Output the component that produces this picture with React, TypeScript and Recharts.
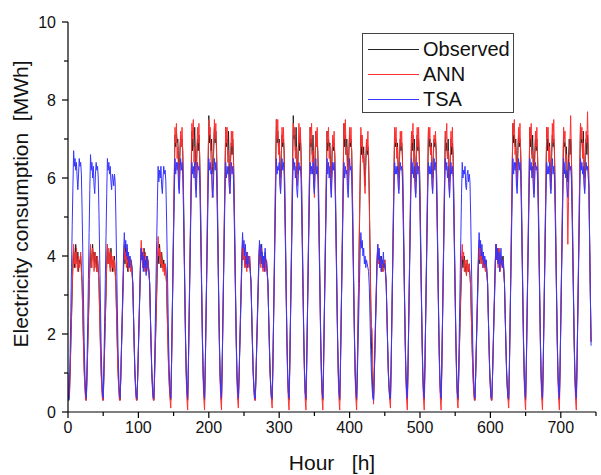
import React from 'react';
import { LineChart, Line, XAxis, YAxis, Legend } from 'recharts';

const FONT = '"Liberation Sans", Arial, Helvetica, sans-serif';

// Hourly values, one row per day (24 h), hours 0..743
const observed: number[] = [
  0.6,0.3,0.4,1.0,1.7,2.4,3.1,3.8, 4.2,3.7,3.9,4.3,4.0,3.8,4.1,3.6,3.9,3.8,4.0,3.7, 3.3,2.5,1.8,1.1,
  0.7,0.4,0.3,0.9,1.6,2.3,3.0,3.7, 4.2,3.7,4.0,4.3,3.9,4.1,3.7,3.9,4.0,3.6,3.9,3.7, 3.3,2.5,1.8,1.1,
  0.7,0.4,0.3,0.9,1.6,2.3,3.0,3.8, 4.3,3.8,4.1,4.0,3.7,4.2,3.9,3.6,3.9,3.7,4.0,3.6, 3.3,2.5,1.8,1.1,
  0.7,0.4,0.3,0.9,1.6,2.3,3.0,3.7, 4.1,3.8,4.3,3.9,4.0,3.6,3.9,4.0,3.7,3.8,3.9,3.6, 3.3,2.5,1.8,1.1,
  0.7,0.4,0.3,0.9,1.6,2.3,3.0,3.8, 4.2,3.9,4.1,3.7,4.2,3.8,3.9,3.6,4.0,3.7,3.8,3.6, 3.3,2.5,1.8,1.1,
  0.7,0.4,0.3,0.9,1.6,2.3,3.0,3.8, 4.1,3.8,4.3,4.0,3.7,4.1,3.9,3.7,3.9,3.6,3.8,3.7, 3.3,2.5,1.8,1.1,
  0.7,0.4,0.3,1.2,2.4,3.6,4.8,6.0, 7.1,6.8,7.2,6.9,7.0,6.4,6.1,6.7,7.1,6.8,7.0,6.7, 5.7,4.4,3.1,1.9,
  1.0,0.5,0.3,1.2,2.4,3.6,4.8,6.0, 7.2,6.7,7.0,6.8,7.3,6.5,6.0,6.6,7.0,6.7,7.1,6.6, 5.7,4.4,3.1,1.9,
  1.0,0.5,0.3,1.2,2.4,3.6,4.9,6.2, 7.6,6.9,7.1,6.7,7.0,6.3,6.1,6.8,7.3,6.9,7.2,6.8, 5.8,4.5,3.1,1.9,
  1.0,0.5,0.3,1.2,2.4,3.6,4.8,6.0, 7.3,6.8,7.0,6.6,7.2,6.4,5.9,6.5,6.9,6.6,7.0,6.6, 5.6,4.4,3.1,1.9,
  1.0,0.5,0.3,0.9,1.6,2.3,3.1,3.8, 4.3,3.9,4.2,3.8,4.0,3.7,4.1,3.9,3.8,3.9,4.0,3.6, 3.3,2.5,1.8,1.1,
  0.7,0.4,0.3,0.9,1.6,2.3,3.0,3.7, 4.2,3.8,4.1,4.3,3.9,3.7,4.0,3.8,4.1,3.7,3.9,3.6, 3.3,2.5,1.8,1.1,
  0.7,0.4,0.3,1.2,2.4,3.6,4.9,6.2, 7.5,6.9,7.2,6.8,7.0,6.4,6.0,6.6,7.1,6.8,7.0,6.7, 5.7,4.4,3.1,1.9,
  1.0,0.5,0.3,1.2,2.4,3.6,4.9,6.2, 7.6,7.0,7.1,6.7,7.3,6.5,6.1,6.7,7.0,6.7,7.1,6.7, 5.7,4.4,3.1,1.9,
  1.0,0.5,0.3,1.2,2.4,3.6,4.8,6.0, 7.3,6.8,7.0,6.6,7.1,6.3,5.9,6.6,7.2,6.8,7.0,6.6, 5.7,4.4,3.1,1.9,
  1.0,0.5,0.3,1.2,2.4,3.6,4.8,6.0, 7.2,6.7,7.0,6.8,6.9,6.3,6.0,6.6,7.0,6.7,6.9,6.6, 5.6,4.4,3.1,1.9,
  1.0,0.5,0.3,1.2,2.4,3.6,4.8,6.1, 7.4,6.8,7.1,6.6,7.0,6.4,6.1,6.7,7.1,6.8,7.0,6.7, 5.7,4.4,3.1,1.9,
  1.0,0.5,0.3,1.2,2.4,3.5,4.7,5.9, 7.1,6.6,6.9,6.5,6.8,6.2,5.8,6.4,6.9,6.6,6.8,6.5, 5.5,4.2,3.0,1.8,
  1.0,0.5,0.3,0.9,1.6,2.3,3.0,3.8, 4.2,3.8,4.1,3.7,3.9,4.0,3.6,3.9,3.7,3.8,3.9,3.6, 3.3,2.5,1.8,1.1,
  0.7,0.4,0.3,1.2,2.4,3.6,4.8,6.0, 7.2,6.8,7.0,6.7,6.9,6.3,6.0,6.6,7.0,6.7,6.9,6.6, 5.6,4.4,3.1,1.9,
  1.0,0.5,0.3,1.2,2.4,3.6,4.8,6.0, 7.2,6.7,7.1,6.6,7.0,6.4,5.9,6.6,7.1,6.7,7.0,6.6, 5.7,4.4,3.1,1.9,
  1.0,0.5,0.3,1.2,2.4,3.6,4.8,6.0, 7.2,6.8,7.0,6.6,6.9,6.3,6.0,6.7,7.0,6.8,7.0,6.7, 5.7,4.4,3.1,1.9,
  1.0,0.5,0.3,1.2,2.4,3.6,4.8,6.0, 7.2,6.7,6.9,6.5,7.0,6.3,5.9,6.5,7.0,6.6,6.9,6.6, 5.6,4.3,3.1,1.9,
  1.0,0.5,0.3,0.9,1.6,2.3,3.0,3.6, 4.0,3.7,3.9,4.0,3.6,3.8,3.5,3.9,3.7,3.6,3.8,3.5, 3.2,2.4,1.7,1.1,
  0.7,0.4,0.3,0.9,1.6,2.3,3.0,3.8, 4.2,3.8,4.3,3.9,4.0,3.7,4.1,3.8,3.9,3.7,3.9,3.6, 3.3,2.5,1.8,1.1,
  0.7,0.4,0.3,0.9,1.6,2.3,3.0,3.8, 4.3,3.9,4.1,3.8,4.2,3.9,3.7,4.0,3.8,3.9,4.0,3.7, 3.3,2.5,1.8,1.1,
  0.7,0.4,0.3,1.2,2.4,3.6,4.9,6.2, 7.4,6.9,7.1,6.8,7.0,6.4,6.1,6.7,7.1,6.8,7.0,6.7, 5.7,4.4,3.1,1.9,
  1.0,0.5,0.3,1.2,2.4,3.6,4.8,6.0, 7.3,6.8,7.0,6.6,7.1,6.4,6.0,6.6,7.0,6.7,7.0,6.6, 5.7,4.4,3.1,1.9,
  1.0,0.5,0.3,1.2,2.4,3.6,4.8,6.0, 7.3,6.7,7.0,6.7,6.9,6.3,5.9,6.6,7.1,6.8,7.0,6.7, 5.7,4.4,3.1,1.9,
  1.0,0.5,0.3,1.2,2.4,3.6,4.8,6.0, 7.2,6.8,6.9,6.5,6.8,6.2,5.9,6.5,7.0,6.6,7.0,6.6, 5.6,4.4,3.1,1.9,
  1.0,0.5,0.3,1.2,2.4,3.6,4.9,6.2, 7.4,6.9,7.0,6.6,7.2,6.4,6.0,6.7,7.0,6.6,7.1,6.7, 5.7,4.3,3.0,1.8,
];

const ann: number[] = [
  1.0,0.4,0.4,1.0,1.8,2.5,3.2,3.9, 4.3,3.8,4.1,3.7,4.2,3.9,3.6,4.0,3.7,3.8,4.1,3.6, 3.3,2.5,1.7,1.0,
  0.6,0.3,0.3,0.9,1.7,2.4,3.1,3.9, 4.3,3.9,3.7,4.2,4.0,3.6,3.9,4.1,3.7,3.6,4.0,3.6, 3.3,2.5,1.7,1.0,
  0.6,0.3,0.3,0.9,1.7,2.4,3.1,3.9, 4.3,3.8,4.2,3.9,3.6,4.1,3.8,3.7,4.0,3.6,3.9,3.6, 3.3,2.5,1.7,1.0,
  0.6,0.3,0.3,0.9,1.7,2.4,3.1,3.8, 4.3,3.9,4.1,3.7,4.2,3.8,3.6,4.0,3.8,3.6,3.9,3.5, 3.3,2.5,1.7,1.0,
  0.6,0.3,0.3,0.9,1.7,2.4,3.1,3.9, 4.4,4.0,3.7,4.2,3.9,3.6,4.1,3.8,3.6,3.7,3.9,3.5, 3.3,2.5,1.7,1.0,
  0.6,0.3,0.3,0.9,1.7,2.4,3.2,4.0, 4.5,4.0,4.2,3.8,4.1,3.7,3.9,3.6,3.8,3.5,3.8,3.5, 3.3,2.5,1.7,1.0,
  0.6,0.3,0.1,1.0,2.3,3.6,4.9,6.2, 7.3,6.9,7.4,6.5,6.8,6.1,5.7,6.5,7.2,6.8,7.3,6.6, 5.5,4.2,2.9,1.7,
  0.8,0.3,0.05,1.0,2.3,3.6,4.9,6.2, 7.4,7.0,7.5,6.4,6.8,6.0,5.7,6.6,7.3,6.9,7.4,6.5, 5.5,4.2,2.9,1.7,
  0.8,0.3,0.05,1.0,2.3,3.6,5.0,6.4, 7.5,7.1,7.3,6.5,6.2,5.5,5.9,6.8,7.5,7.0,7.4,6.6, 5.5,4.2,2.9,1.7,
  0.8,0.3,0.05,1.0,2.3,3.6,4.9,6.2, 7.3,6.9,7.3,6.4,6.7,5.9,5.6,6.5,7.2,6.8,7.2,6.5, 5.4,4.1,2.9,1.7,
  0.8,0.3,0.1,0.9,1.7,2.5,3.2,3.9, 4.4,3.9,4.2,3.7,4.0,3.8,3.6,4.1,3.8,3.7,4.0,3.6, 3.3,2.5,1.7,1.0,
  0.6,0.3,0.3,0.9,1.7,2.4,3.1,3.9, 4.3,3.9,3.7,4.2,3.9,3.6,4.0,3.7,3.9,3.6,3.9,3.5, 3.3,2.5,1.7,1.0,
  0.6,0.3,0.1,1.0,2.3,3.6,5.0,6.4, 7.5,7.0,7.5,6.6,6.9,6.0,5.7,6.6,7.3,6.9,7.3,6.6, 5.5,4.2,2.9,1.7,
  0.8,0.3,0.05,1.0,2.3,3.6,5.0,6.4, 7.4,7.1,7.3,6.5,6.8,6.1,5.8,6.7,7.4,6.9,7.3,6.6, 5.5,4.2,2.9,1.7,
  0.8,0.3,0.05,1.0,2.3,3.6,4.9,6.2, 7.3,6.9,7.4,6.4,6.7,5.9,5.5,6.5,7.2,6.8,7.3,6.5, 5.4,4.1,2.9,1.7,
  0.8,0.3,0.05,1.0,2.3,3.6,4.9,6.2, 7.2,6.9,7.3,6.5,6.8,6.1,5.6,6.4,7.1,6.8,7.2,6.5, 5.4,4.1,2.9,1.7,
  0.8,0.3,0.05,1.0,2.3,3.6,4.9,6.3, 7.4,7.0,7.5,6.6,6.8,6.0,5.8,6.6,7.3,6.9,7.3,6.6, 5.5,4.2,2.9,1.7,
  0.8,0.3,0.05,1.0,2.3,3.6,4.9,6.2, 7.3,6.8,7.1,6.4,6.6,5.9,5.6,6.4,7.0,6.7,7.2,6.4, 5.3,4.0,2.6,2.2,
  2.1,1.2,0.2,0.9,1.7,2.5,3.2,3.9, 4.3,3.8,4.1,3.7,4.0,3.6,3.9,3.8,3.6,3.7,3.9,3.5, 3.3,2.5,1.7,1.0,
  0.6,0.3,0.1,1.0,2.3,3.6,4.9,6.2, 7.3,6.9,7.3,6.5,6.8,6.0,5.7,6.5,7.2,6.8,7.2,6.5, 5.4,4.1,2.9,1.7,
  0.8,0.3,0.05,1.0,2.3,3.6,4.9,6.2, 7.2,6.9,7.4,6.4,6.7,5.9,5.6,6.6,7.3,6.8,7.3,6.5, 5.4,4.1,2.9,1.7,
  0.8,0.3,0.05,1.0,2.3,3.6,4.9,6.2, 7.3,7.0,7.3,6.6,6.8,6.1,5.7,6.5,7.1,6.9,7.2,6.6, 5.5,4.2,2.9,1.7,
  0.8,0.3,0.05,1.0,2.3,3.6,4.9,6.2, 7.2,7.0,7.4,6.5,6.7,5.9,5.6,6.5,7.2,6.8,7.3,6.5, 5.4,4.1,2.9,1.7,
  0.8,0.3,0.1,0.9,1.7,2.5,3.2,3.9, 4.3,3.9,4.1,3.6,3.9,3.7,3.5,3.9,3.6,3.7,3.8,3.5, 3.2,2.4,1.7,1.0,
  0.6,0.3,0.3,0.9,1.7,2.5,3.2,3.9, 4.4,3.9,4.2,3.8,4.1,3.7,3.9,4.0,3.7,3.6,3.9,3.5, 3.3,2.5,1.7,1.0,
  0.6,0.3,0.3,0.9,1.7,2.4,3.1,3.9, 4.3,3.9,4.1,3.7,4.2,3.8,3.6,4.0,3.8,3.7,3.9,3.6, 3.3,2.5,1.7,1.0,
  0.6,0.3,0.1,1.0,2.3,3.6,5.0,6.4, 7.4,7.1,7.5,6.6,6.8,6.1,5.8,6.6,7.3,6.9,7.4,6.6, 5.5,4.2,2.9,1.7,
  0.8,0.3,0.05,1.0,2.3,3.6,4.9,6.2, 7.3,7.0,7.4,6.5,6.7,5.9,5.6,6.5,7.2,6.8,7.3,6.5, 5.4,4.1,2.9,1.7,
  0.8,0.3,0.05,1.0,2.3,3.6,4.9,6.2, 7.3,7.0,7.3,6.4,6.8,6.0,5.7,6.6,7.4,6.9,7.5,6.6, 5.5,4.2,2.9,1.7,
  0.8,0.3,0.05,1.0,2.3,3.6,4.9,6.2, 7.3,7.0,7.2,6.4,6.6,5.6,4.3,5.4,6.6,6.9,7.6,6.7, 5.5,4.2,2.9,1.7,
  0.8,0.3,0.05,1.0,2.3,3.6,5.0,6.4, 7.4,7.0,7.3,6.5,6.9,6.0,5.7,6.6,7.2,6.9,7.7,6.8, 5.6,4.3,3.0,1.8,
];

const tsa: number[] = [
  0.5,0.3,0.6,1.5,2.6,3.7,4.8,5.8, 6.7,6.3,6.5,6.2,6.4,6.0,5.7,6.1,6.5,6.3,6.4,6.1, 5.2,4.1,2.9,1.8,
  1.0,0.5,0.35,1.2,2.3,3.4,4.6,5.7, 6.6,6.2,6.4,6.0,6.3,5.8,5.6,6.1,6.4,6.2,6.3,6.0, 5.1,4.0,2.9,1.8,
  1.0,0.5,0.35,1.2,2.3,3.4,4.5,5.6, 6.5,6.2,6.4,6.1,6.3,5.9,5.7,6.1,6.0,5.8,6.1,5.9, 5.0,3.9,2.8,1.7,
  1.0,0.5,0.35,0.9,1.7,2.5,3.3,4.1, 4.6,4.2,4.4,4.0,4.3,3.9,4.1,3.7,4.0,3.9,3.8,3.7, 3.3,2.5,1.7,1.0,
  0.6,0.35,0.35,0.9,1.6,2.4,3.1,3.8, 4.2,3.9,4.1,3.6,4.0,3.7,3.9,3.5,3.8,4.0,3.7,3.6, 3.3,2.5,1.7,1.0,
  0.6,0.35,0.35,1.2,2.3,3.4,4.4,5.4, 6.3,5.9,6.2,6.0,6.3,5.8,5.6,6.0,6.3,6.1,6.2,5.9, 5.0,3.9,2.8,1.7,
  1.0,0.5,0.35,1.2,2.3,3.4,4.5,5.6, 6.5,6.1,6.4,6.2,6.4,5.8,5.6,6.1,6.5,6.2,6.4,6.1, 5.2,4.1,2.9,1.8,
  1.0,0.5,0.35,1.2,2.3,3.4,4.5,5.6, 6.4,6.1,6.3,6.0,6.4,5.8,5.5,6.0,6.4,6.2,6.3,6.0, 5.1,4.0,2.9,1.8,
  1.0,0.5,0.35,1.2,2.3,3.4,4.5,5.6, 6.5,6.2,6.4,6.1,6.2,5.7,5.5,6.1,6.5,6.2,6.4,6.1, 5.2,4.1,2.9,1.8,
  1.0,0.5,0.35,1.2,2.3,3.4,4.5,5.6, 6.4,6.0,6.3,6.1,6.3,5.8,5.6,6.0,6.4,6.1,6.3,6.0, 5.1,4.0,2.9,1.8,
  1.0,0.5,0.35,0.9,1.7,2.5,3.3,4.1, 4.6,4.2,4.4,4.0,4.3,3.8,4.1,3.7,4.0,3.9,3.8,3.6, 3.3,2.5,1.7,1.0,
  0.6,0.35,0.35,0.9,1.7,2.5,3.2,3.9, 4.4,4.0,4.3,3.8,4.1,3.7,4.0,3.6,4.2,3.9,3.8,3.6, 3.3,2.5,1.7,1.0,
  0.6,0.35,0.35,1.2,2.3,3.4,4.5,5.6, 6.5,6.1,6.3,6.2,6.4,5.8,5.6,6.1,6.5,6.2,6.4,6.1, 5.2,4.1,2.9,1.8,
  1.0,0.5,0.35,1.2,2.3,3.4,4.5,5.6, 6.5,6.2,6.4,6.0,6.3,5.7,5.5,6.0,6.4,6.2,6.3,6.0, 5.1,4.0,2.9,1.8,
  1.0,0.5,0.35,1.2,2.3,3.4,4.5,5.6, 6.4,6.1,6.3,6.1,6.4,5.8,5.6,6.1,6.5,6.1,6.3,6.0, 5.1,4.0,2.9,1.8,
  1.0,0.5,0.35,1.2,2.3,3.4,4.5,5.6, 6.5,6.1,6.4,6.0,6.3,5.8,5.5,6.0,6.4,6.2,6.4,6.1, 5.2,4.1,2.9,1.8,
  1.0,0.5,0.35,1.2,2.3,3.4,4.5,5.6, 6.4,6.0,6.3,6.1,6.2,5.7,5.5,6.0,6.5,6.2,6.3,6.0, 5.1,4.0,2.9,1.8,
  1.0,0.5,0.35,0.9,1.7,2.5,3.3,4.1, 4.6,4.2,4.4,4.0,4.2,3.8,4.0,3.7,3.9,3.8,3.7,3.6, 3.2,2.4,1.6,1.0,
  0.6,0.35,0.3,0.9,1.7,2.5,3.2,3.9, 4.3,3.9,4.2,3.7,4.0,3.6,3.9,3.8,4.1,3.7,3.8,3.6, 3.3,2.5,1.7,1.0,
  0.6,0.35,0.35,1.2,2.3,3.4,4.5,5.6, 6.4,6.1,6.3,6.1,6.3,5.8,5.6,6.1,6.4,6.2,6.3,6.0, 5.1,4.0,2.9,1.8,
  1.0,0.5,0.35,1.2,2.3,3.4,4.5,5.6, 6.5,6.1,6.4,6.0,6.3,5.7,5.5,6.0,6.4,6.1,6.3,6.0, 5.1,4.0,2.9,1.8,
  1.0,0.5,0.35,1.2,2.3,3.4,4.5,5.6, 6.4,6.1,6.3,6.1,6.4,5.8,5.6,6.1,6.5,6.2,6.4,6.1, 5.2,4.1,2.9,1.8,
  1.0,0.5,0.35,1.2,2.3,3.4,4.5,5.6, 6.5,6.2,6.4,6.0,6.3,5.8,5.5,6.0,6.4,6.1,6.3,6.0, 5.1,4.0,2.9,1.8,
  1.0,0.5,0.35,1.2,2.3,3.4,4.5,5.6, 6.4,6.0,6.2,6.1,6.3,5.8,5.7,6.1,6.2,5.9,6.1,5.9, 5.0,3.9,2.8,1.7,
  1.0,0.5,0.35,0.9,1.7,2.5,3.3,4.1, 4.6,4.2,4.4,4.0,4.3,3.9,4.1,3.7,4.0,3.8,3.9,3.6, 3.3,2.5,1.7,1.0,
  0.6,0.35,0.35,0.9,1.7,2.5,3.2,3.9, 4.3,3.9,4.2,3.8,4.1,3.6,3.9,4.2,3.8,3.7,3.9,3.6, 3.3,2.5,1.7,1.0,
  0.6,0.35,0.35,1.2,2.3,3.4,4.5,5.6, 6.5,6.1,6.4,6.2,6.4,5.8,5.6,6.1,6.5,6.2,6.4,6.1, 5.2,4.1,2.9,1.8,
  1.0,0.5,0.35,1.2,2.3,3.4,4.5,5.6, 6.5,6.2,6.4,6.0,6.3,5.7,5.5,6.0,6.4,6.2,6.3,6.0, 5.1,4.0,2.9,1.8,
  1.0,0.5,0.35,1.2,2.3,3.4,4.5,5.6, 6.4,6.1,6.3,6.1,6.4,5.8,5.6,6.1,6.5,6.1,6.3,6.0, 5.1,4.0,2.9,1.8,
  1.0,0.5,0.35,1.2,2.3,3.4,4.5,5.6, 6.5,6.1,6.4,6.0,6.2,5.7,5.5,6.0,6.4,6.2,6.3,6.0, 5.1,4.0,2.9,1.8,
  1.0,0.5,0.35,1.2,2.3,3.4,4.5,5.6, 6.5,6.2,6.4,6.1,6.3,5.8,5.6,6.1,6.4,6.2,6.3,6.0, 5.8,4.4,3.0,1.7,
];

const xTicks: number[] = [0, 50, 100, 150, 200, 250, 300, 350, 400, 450, 500, 550, 600, 650, 700, 750];
const yTicks: number[] = [0, 1, 2, 3, 4, 5, 6, 7, 8, 9, 10];

const seriesInfo = [
  { key: 'observed', name: 'Observed', color: '#222222' },
  { key: 'ann', name: 'ANN', color: '#ff3030' },
  { key: 'tsa', name: 'TSA', color: '#3535ff' },
];

const data = observed.map((v, i) => ({ hour: i, observed: v, ann: ann[i], tsa: tsa[i] }));

const XTick = (props: any) => {
  const { x, y, payload } = props;
  const v = payload.value;
  const major = v % 100 === 0;
  return (
    <g>
      <line x1={x} y1={y} x2={x} y2={y + (major ? 6 : 4)} stroke="#000" strokeWidth={1.2} />
      {major && (
        <text x={x} y={y + 10} dy="0.71em" textAnchor="middle" fontSize={16} fontFamily={FONT} fill="#111">
          {v}
        </text>
      )}
    </g>
  );
};

const YTick = (props: any) => {
  const { x, y, payload } = props;
  const v = payload.value;
  const major = v % 2 === 0;
  return (
    <g>
      <line x1={x - (major ? 6 : 4)} y1={y} x2={x} y2={y} stroke="#000" strokeWidth={1.2} />
      {major && (
        <text x={x - 12} y={y} dy="0.355em" textAnchor="end" fontSize={16} fontFamily={FONT} fill="#111">
          {v}
        </text>
      )}
    </g>
  );
};

const LegendBox = () => (
  <div
    style={{
      width: 152,
      height: 80,
      border: '1px solid #444',
      boxSizing: 'border-box',
      background: '#fff',
      paddingTop: 3,
      fontFamily: FONT,
      fontSize: 20,
      color: '#111',
    }}
  >
    {seriesInfo.map((s) => (
      <div key={s.key} style={{ height: 25, display: 'flex', alignItems: 'center' }}>
        <svg width={60} height={25} style={{ display: 'block' }}>
          <line x1={5} y1={12.5} x2={56} y2={12.5} stroke={s.color} strokeWidth={1} />
        </svg>
        <span style={{ lineHeight: '25px' }}>{s.name}</span>
      </div>
    ))}
  </div>
);

export default function App() {
  return (
    <div style={{ position: 'absolute', left: 0, top: 0, width: 601, height: 475, background: '#fff' }}>
      <LineChart width={601} height={475} data={data} margin={{ top: 22, right: 5, bottom: 0, left: 0 }}>
        <XAxis
          dataKey="hour"
          type="number"
          domain={[0, 750]}
          ticks={xTicks}
          interval={0}
          tickSize={0}
          tickMargin={0}
          tick={XTick}
          tickLine={false}
          axisLine={{ stroke: '#000', strokeWidth: 1.2 }}
          height={63}
          allowDataOverflow
          label={(p: any) => {
            const vb = p.viewBox;
            return (
              <text
                x={vb.x + vb.width / 2}
                y={vb.y + vb.height - 5}
                textAnchor="middle"
                fontSize={21}
                fontFamily={FONT}
                fill="#111"
              >
                {'Hour\u00a0\u00a0\u00a0[h]'}
              </text>
            );
          }}
        />
        <YAxis
          type="number"
          domain={[0, 10]}
          ticks={yTicks}
          interval={0}
          tickSize={0}
          tickMargin={0}
          tick={YTick}
          tickLine={false}
          axisLine={{ stroke: '#000', strokeWidth: 1.2 }}
          width={68}
          allowDataOverflow
          label={(p: any) => {
            const vb = p.viewBox;
            const cx = vb.x + 20;
            const cy = vb.y + vb.height / 2 - 13;
            return (
              <text
                x={cx}
                y={cy}
                transform={`rotate(-90 ${cx} ${cy})`}
                textAnchor="middle"
                dominantBaseline="central"
                fontSize={21}
                fontFamily={FONT}
                fill="#111"
              >
                {'Electricity consumption\u00a0\u00a0[MWh]'}
              </text>
            );
          }}
        />
        <Legend
          layout="vertical"
          align="center"
          verticalAlign="middle"
          content={<LegendBox />}
          wrapperStyle={{ position: 'absolute', left: 362, top: 33, width: 152, height: 80 }}
        />
        {seriesInfo.map((s) => (
          <Line
            key={s.key}
            type="linear"
            dataKey={s.key}
            name={s.name}
            stroke={s.color}
            strokeWidth={1}
            dot={false}
            activeDot={false}
            isAnimationActive={false}
          />
        ))}
      </LineChart>
    </div>
  );
}
